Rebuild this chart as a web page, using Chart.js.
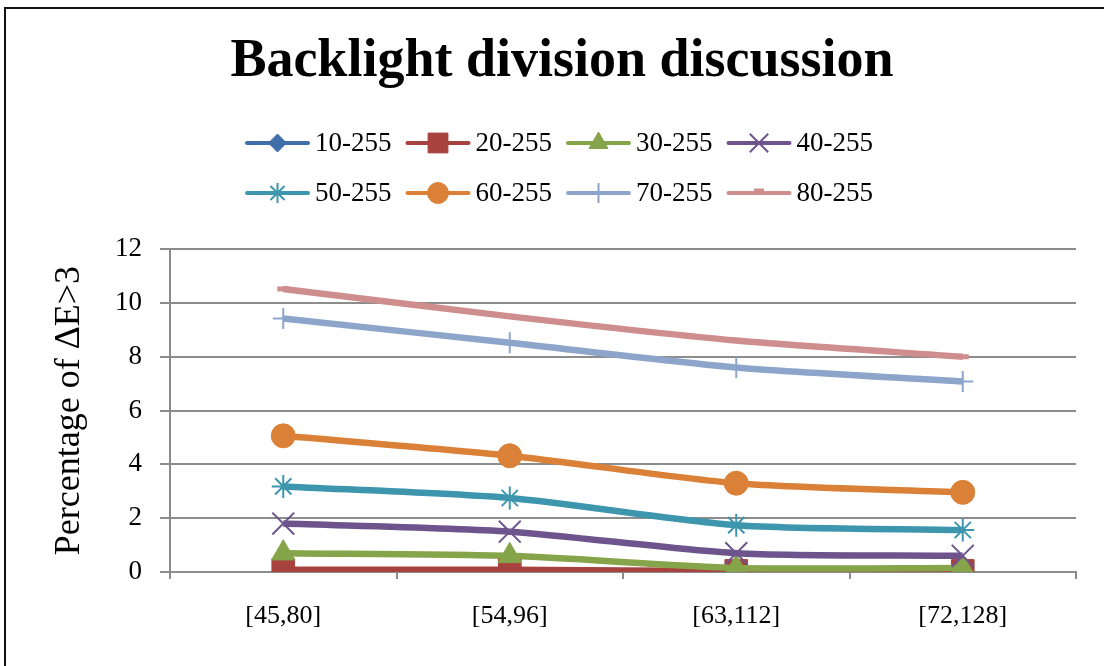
<!DOCTYPE html>
<html>
<head>
<meta charset="utf-8">
<title>Backlight division discussion</title>
<script src="https://cdn.jsdelivr.net/npm/chart.js@4.4.1/dist/chart.umd.min.js"></script>
<style>
  html, body { margin: 0; padding: 0; background: #fff; overflow: hidden; }
  #frame {
    position: absolute; left: 4px; top: 7px;
    width: 1200px; height: 800px;
    border: 2px solid #111;
  }
  #wrap { position: absolute; left: 0; top: 0; width: 1104px; height: 666px; }
</style>
</head>
<body>
<div id="frame"></div>
<div id="wrap"><canvas id="backlightChart" width="1104" height="666"></canvas></div>
<script>
var SERIF = '"Times New Roman", "Liberation Serif", serif';

var ranges = ["[45,80]", "[54,96]", "[63,112]", "[72,128]"];
var seriesNames = ["10-255", "20-255", "30-255", "40-255", "50-255", "60-255", "70-255", "80-255"];

var s10 = [0, 0, 0, 0];
var s20 = [0.08, 0.08, 0.04, 0.04];
var s30 = [0.7, 0.6, 0.15, 0.15];
var s40 = [1.8, 1.5, 0.7, 0.6];
var s50 = [3.18, 2.75, 1.74, 1.56];
var s60 = [5.06, 4.32, 3.3, 2.96];
var s70 = [9.42, 8.52, 7.6, 7.08];
var s80 = [10.52, 9.5, 8.6, 8.0];

var yTicks = [0, 2, 4, 6, 8, 10, 12];

var seriesValues = [s10, s20, s30, s40, s50, s60, s70, s80];
var colors = ["#3F6EAA", "#A8423F", "#86A44A", "#6E548D", "#3D96AE", "#DA8137", "#8EA5CB", "#CE8E8D"];
var markers = ["rectRot", "rect", "triangle", "crossRot", "star", "circle", "cross", "line"];
var markerRadius = [11, 16, 13.5, 15.5, 11.5, 12, 10.5, 6];
var markerBorder = [1, 1, 1, 2, 2, 1, 2, 5];
var legendRadius = [9, 14, 11, 13, 10, 10.5, 10, 5];

var datasets = seriesValues.map(function(vals, i) {
    return {
        label: seriesNames[i],
        data: vals,
        borderColor: colors[i],
        backgroundColor: colors[i],
        pointBackgroundColor: colors[i],
        pointBorderColor: colors[i],
        borderWidth: 6.5,
        tension: 0.25,
        pointStyle: markers[i],
        pointRadius: markerRadius[i],
        pointBorderWidth: markerBorder[i],
        order: seriesValues.length - i,   // later series drawn on top
        fill: false
    };
});

// two-row legend: line sample with its marker, then the name
var rowLegend = {
    id: 'rowLegend',
    afterDraw: function(chart) {
        var ctx = chart.ctx;
        ctx.save();
        ctx.font = '27px ' + SERIF;
        ctx.textBaseline = 'middle';
        chart.data.datasets.forEach(function(ds, i) {
            var x = 247 + (i % 4) * 160.5;
            var y = i < 4 ? 143 : 193;
            ctx.strokeStyle = ds.borderColor;
            ctx.fillStyle = ds.borderColor;
            ctx.lineWidth = 4;
            ctx.lineCap = 'round';
            ctx.beginPath();
            ctx.moveTo(x, y);
            ctx.lineTo(x + 61, y);
            ctx.stroke();
            ctx.lineCap = 'butt';
            ctx.lineWidth = markerBorder[i];
            Chart.helpers.drawPoint(ctx, {
                pointStyle: ds.pointStyle,
                rotation: 0,
                radius: legendRadius[i],
                borderWidth: markerBorder[i]
            }, x + 30.5, ds.pointStyle === 'line' ? y - 2 : y);
            ctx.fillStyle = '#000';
            ctx.fillText(ds.label, x + 68, y + 1);
        });
        ctx.restore();
    }
};

var chart = new Chart(document.getElementById("backlightChart").getContext("2d"), {
    type: 'line',
    data: { labels: ranges, datasets: datasets },
    plugins: [rowLegend],
    options: {
        responsive: false,
        animation: false,
        layout: { padding: { top: 31, left: 48, right: 28, bottom: 20 } },
        plugins: {
            legend: { display: false },
            tooltip: { enabled: false },
            title: {
                display: true,
                text: 'Backlight division discussion',
                color: '#000',
                font: { family: SERIF, size: 54, weight: 'bold', lineHeight: 1.15 },
                position: 'top',
                padding: { top: 0, bottom: 156 }
            }
        },
        scales: {
            x: {
                offset: true,
                grid: {
                    display: true,
                    offset: true,
                    drawOnChartArea: false,
                    tickLength: 7,
                    color: '#8C8C8C',
                    lineWidth: 2
                },
                border: { color: '#8C8C8C', width: 2 },
                ticks: {
                    color: '#000',
                    font: { family: SERIF, size: 26 },
                    padding: 22,
                    maxRotation: 0
                },
                afterFit: function(scale) { scale.height = 666 - 572 - 20; }
            },
            y: {
                min: 0,
                max: 12,
                afterBuildTicks: function(scale) {
                    scale.ticks = yTicks.map(function(v) { return { value: v }; });
                },
                grid: {
                    color: '#8C8C8C',
                    lineWidth: 2,
                    tickLength: 10
                },
                border: { color: '#8C8C8C', width: 2 },
                ticks: {
                    color: '#000',
                    font: { family: SERIF, size: 27 },
                    padding: 18
                },
                title: {
                    display: true,
                    text: 'Percentage of ΔE>3',
                    color: '#000',
                    font: { family: SERIF, size: 36 },
                    padding: { top: 0, bottom: 0 }
                },
                afterFit: function(scale) { scale.width = 170 - 48; }
            }
        }
    }
});
</script>
</body>
</html>
